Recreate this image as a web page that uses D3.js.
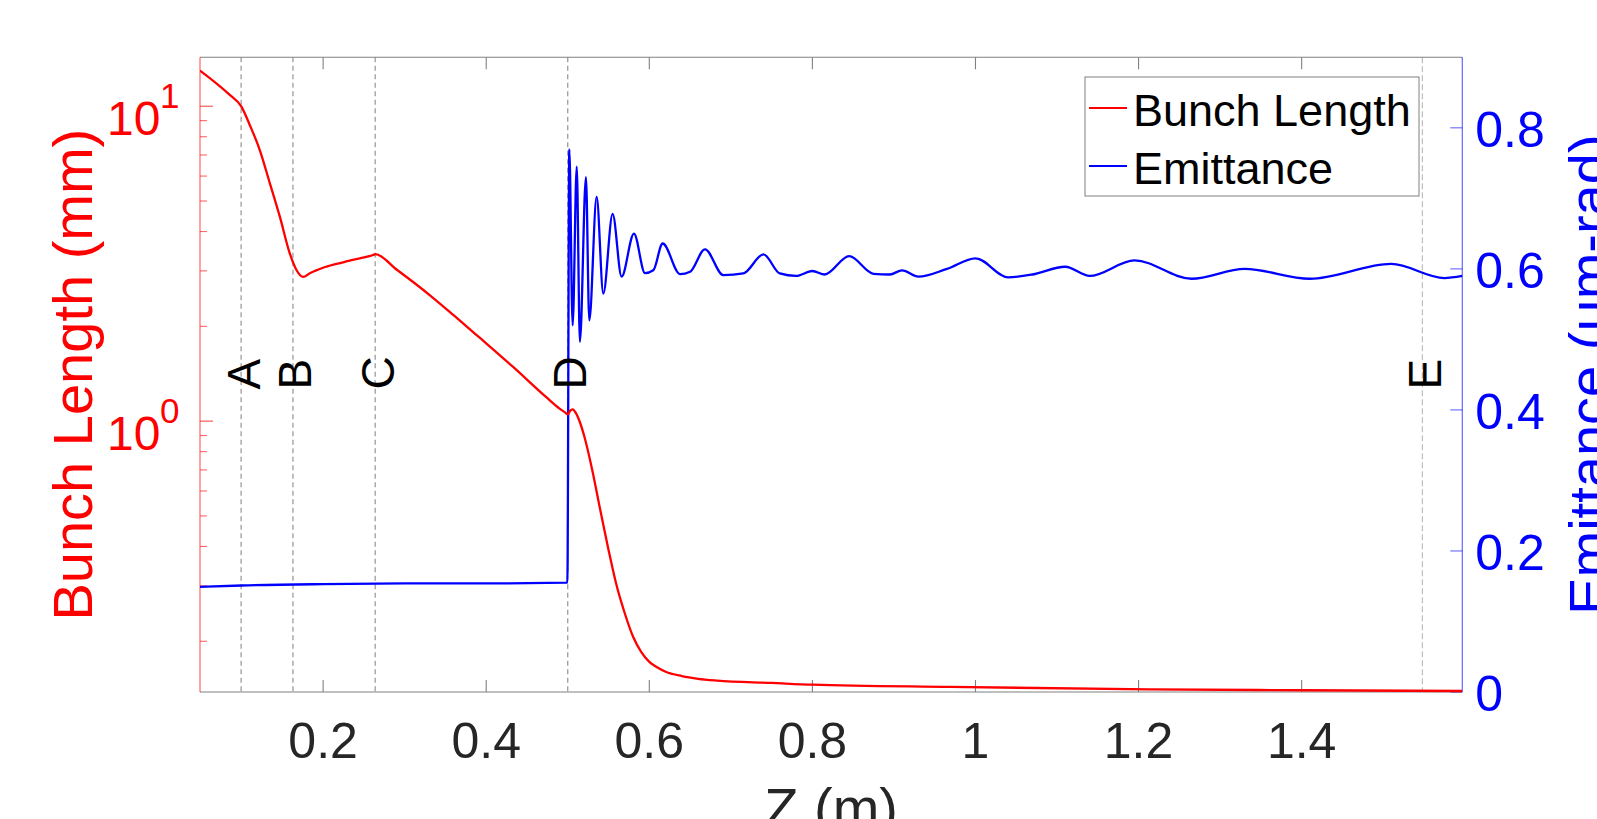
<!DOCTYPE html>
<html><head><meta charset="utf-8">
<script src="https://cdn.jsdelivr.net/npm/d3@7"></script>
<style>
body{margin:0;background:#fff;overflow:hidden}
svg{display:block}
text{font-family:Arial,"Liberation Sans",Helvetica,sans-serif}
</style>
</head><body>
<svg id="chart" width="1597" height="819"></svg>
<script>
// ---------- data ----------
const bunchZ = [0.049,0.0855,0.0998,0.110,0.1223,0.1347,0.1469,0.1591,0.1673,0.1755,0.1837,0.190,0.200,0.215,0.230,0.245,0.2614,0.264,0.290,0.331,0.360,0.392,0.433,0.474,0.490,0.497,0.500,0.503,0.506,0.510,0.515,0.520,0.530,0.540,0.550,0.560,0.570,0.580,0.590,0.600,0.610,0.620,0.640,0.660,0.683,0.750,0.800,0.969,1.214,1.400,1.597];
const bunchLength = [12.98,10.86,9.97,8.72,7.26,5.69,4.46,3.41,3.02,2.87,2.95,3.00,3.07,3.15,3.22,3.29,3.37,3.39,3.03,2.51,2.17,1.84,1.486,1.189,1.096,1.064,1.05,1.08,1.09,1.06,0.99,0.90,0.70,0.52,0.39,0.30,0.245,0.207,0.185,0.172,0.165,0.160,0.155,0.152,0.150,0.1475,0.1456,0.1432,0.1407,0.1398,0.139];

const emitZ = [0.049,0.10,0.20,0.30,0.40,0.4995,0.5019,0.506,0.511,0.5149,0.5223,0.5264,0.5354,0.5436,0.555,0.566,0.5812,0.5947,0.6049,0.6164,0.6377,0.650,0.6683,0.6908,0.7153,0.740,0.760,0.780,0.800,0.815,0.845,0.875,0.895,0.910,0.930,0.965,1.000,1.040,1.070,1.110,1.140,1.195,1.265,1.330,1.410,1.510,1.575,1.597];
const emittance = [0.149,0.151,0.153,0.154,0.154,0.155,0.7695,0.520,0.745,0.4966,0.730,0.527,0.702,0.565,0.678,0.589,0.650,0.594,0.598,0.636,0.5926,0.596,0.6276,0.591,0.5935,0.6205,0.5935,0.590,0.597,0.592,0.618,0.593,0.592,0.598,0.589,0.600,0.615,0.588,0.592,0.603,0.590,0.612,0.586,0.600,0.586,0.607,0.587,0.590];

const markerZ = [0.0994,0.163,0.2638,0.5,1.548];
const markerLabels = ["A","B","C","D","E"];
const markerLabelY = 0.429; // in emittance units (label start)

const xTicks = [0.2,0.4,0.6,0.8,1,1.2,1.4];
const xTickLabels = ["0.2","0.4","0.6","0.8","1","1.2","1.4"];
const leftMajorTicks = [1,10];
const leftMajorBase = ["10","10"];
const leftMajorExp = ["0","1"];
const leftMinorTicks = [0.2,0.3,0.4,0.5,0.6,0.7,0.8,0.9,2,3,4,5,6,7,8,9];
const rightTicks = [0,0.2,0.4,0.6,0.8];
const rightTickLabels = ["0","0.2","0.4","0.6","0.8"];
const seriesNames = ["Bunch Length","Emittance"];

// ---------- layout ----------
const L=200, R=1462.3, T=57.3, B=692;
const svg = d3.select("#chart");
const x = d3.scaleLinear().domain([0.049,1.597]).range([L,R]);
const yL = d3.scaleLog().domain([0.138,14.3]).range([B,T]);
const yR = d3.scaleLinear().domain([0,0.9]).range([B,T]);

const RED="#ff0000", BLUE="#0000ff", TXT="#262626";

// marker dashed lines
markerZ.forEach((z,i)=>{
  svg.append("line").attr("x1",x(z)).attr("x2",x(z)).attr("y1",T).attr("y2",B)
    .attr("stroke", i===4 ? "#b8b8b8" : "#8a8a8a").attr("stroke-width",1.1)
    .attr("stroke-dasharray", i===4 ? "6,3" : "5,3.5");
});

// box top/bottom
svg.append("line").attr("x1",L).attr("x2",R).attr("y1",T).attr("y2",T).attr("stroke","#808080").attr("stroke-width",1.1);
svg.append("line").attr("x1",L).attr("x2",R).attr("y1",B).attr("y2",B).attr("stroke","#808080").attr("stroke-width",1.1);

// x ticks (inward, top and bottom)
xTicks.forEach((t,i)=>{
  svg.append("line").attr("x1",x(t)).attr("x2",x(t)).attr("y1",B).attr("y2",B-12).attr("stroke","#808080").attr("stroke-width",1.1);
  svg.append("line").attr("x1",x(t)).attr("x2",x(t)).attr("y1",T).attr("y2",T+12).attr("stroke","#808080").attr("stroke-width",1.1);
  svg.append("text").attr("x",x(t)).attr("y",B+66).attr("text-anchor","middle")
    .attr("font-size",50).attr("fill",TXT).text(xTickLabels[i]);
});
svg.append("text").attr("x",(L+R)/2).attr("y",827).attr("text-anchor","middle")
  .attr("font-size",56).attr("fill",TXT).text("Z (m)");

// left axis
svg.append("line").attr("x1",L).attr("x2",L).attr("y1",T).attr("y2",B).attr("stroke",RED).attr("stroke-opacity",0.6).attr("stroke-width",1.2);
leftMinorTicks.forEach(t=>{
  svg.append("line").attr("x1",L).attr("x2",L+7).attr("y1",yL(t)).attr("y2",yL(t)).attr("stroke",RED).attr("stroke-opacity",0.6).attr("stroke-width",1.1);
});
leftMajorTicks.forEach((t,i)=>{
  svg.append("line").attr("x1",L).attr("x2",L+13).attr("y1",yL(t)).attr("y2",yL(t)).attr("stroke",RED).attr("stroke-opacity",0.7).attr("stroke-width",1.1);
  svg.append("text").attr("y",yL(t)+29).attr("x",107).attr("fill",RED).attr("font-size",48).text(leftMajorBase[i]);
  svg.append("text").attr("x",160).attr("y",yL(t)+2).attr("fill",RED).attr("font-size",35).text(leftMajorExp[i]);
});
svg.append("text").attr("transform",`translate(92,${(T+B)/2}) rotate(-90)`).attr("text-anchor","middle")
  .attr("font-size",56).attr("fill",RED).text("Bunch Length (mm)");

// right axis
svg.append("line").attr("x1",R).attr("x2",R).attr("y1",T).attr("y2",B).attr("stroke",BLUE).attr("stroke-opacity",0.6).attr("stroke-width",1.2);
rightTicks.forEach((t,i)=>{
  svg.append("line").attr("x1",R).attr("x2",R-12).attr("y1",yR(t)).attr("y2",yR(t)).attr("stroke",BLUE).attr("stroke-opacity",0.6).attr("stroke-width",1.1);
  svg.append("text").attr("x",R+13).attr("y",yR(t)+19).attr("fill",BLUE).attr("font-size",50).text(rightTickLabels[i]);
});
svg.append("text").attr("transform",`translate(1608,${(T+B)/2}) rotate(-90)`).attr("text-anchor","middle")
  .attr("font-size",56).attr("fill",BLUE).text("Emittance (\u03bcm-rad)");

// curves
svg.append("clipPath").attr("id","clip").append("rect").attr("x",L).attr("y",T-2).attr("width",R-L).attr("height",B-T+4);
const redLine = d3.line().x((d,i)=>x(bunchZ[i])).y(d=>yL(d)).curve(d3.curveMonotoneX);
const blueLine = d3.line().x((d,i)=>x(emitZ[i])).y(d=>yR(d)).curve(d3.curveMonotoneX);
svg.append("path").attr("d",blueLine(emittance)).attr("fill","none").attr("stroke",BLUE).attr("stroke-width",2.3).attr("clip-path","url(#clip)");
svg.append("path").attr("d",redLine(bunchLength)).attr("fill","none").attr("stroke",RED).attr("stroke-width",2.3).attr("clip-path","url(#clip)");

// marker labels
markerZ.forEach((z,i)=>{
  svg.append("text").attr("transform",`translate(${x(z)+18.5},${yR(markerLabelY)}) rotate(-90)`)
    .attr("font-size",46).attr("fill","#000").text(markerLabels[i]);
});

// legend
const lg = svg.append("g");
lg.append("rect").attr("x",1085).attr("y",77).attr("width",334).attr("height",119).attr("fill","#fff").attr("stroke","#8a8a8a").attr("stroke-width",1.1);
[RED,BLUE].forEach((c,i)=>{
  const yy = 108 + i*58;
  lg.append("line").attr("x1",1089).attr("x2",1127).attr("y1",yy).attr("y2",yy).attr("stroke",c).attr("stroke-width",2);
  lg.append("text").attr("x",1133).attr("y",yy+18).attr("font-size",45).attr("fill","#000").text(seriesNames[i]);
});
</script>
</body></html>
